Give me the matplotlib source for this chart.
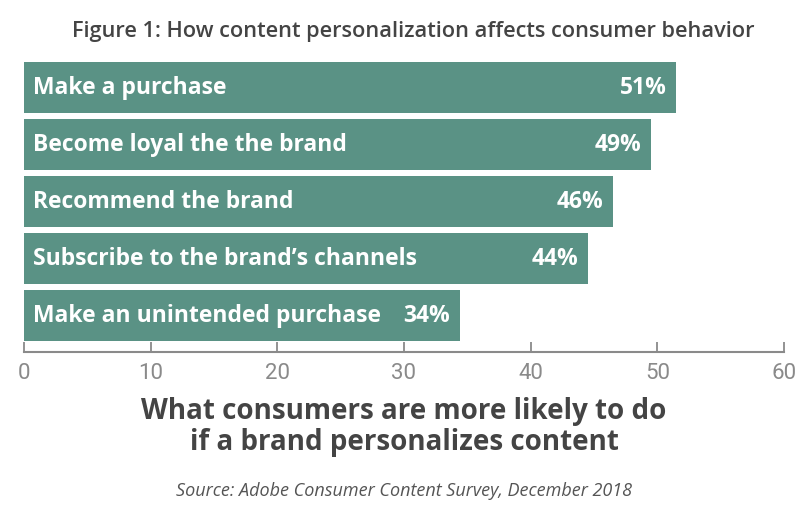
import matplotlib.pyplot as plt

# Donnees
categories = ["Make a purchase", "Become loyal the the brand", "Recommend the brand",
              "Subscribe to the brand\u2019s channels", "Make an unintended purchase"]
longueurs = [51.5, 49.5, 46.5, 44.5, 34.4]
etiquettes = ["51%", "49%", "46%", "44%", "34%"]
ticks = [0, 10, 20, 30, 40, 50, 60]

couleur = "#5a9285"
gris = "#8a8a8a"
fonce = "#444444"
police = ["Open Sans", "DejaVu Sans"]

fig = plt.figure(figsize=(8, 5.07), dpi=100)
ax = fig.add_axes([0.03, 0.3057, 0.95, 0.572])

pos = list(range(len(categories)))
ax.barh(pos, longueurs, height=0.9, color=couleur, edgecolor="none")

for i in pos:
    ax.text(0.7, i, categories[i], color="white", fontsize=16.5, fontweight="bold",
            va="center", ha="left", family=police)
    ax.annotate(etiquettes[i], (longueurs[i], i), xytext=(-7, 0), textcoords="offset points",
                color="white", fontsize=16.5, fontweight="bold", va="center", ha="right",
                family=police)

ax.set_xlim(0, 60)
ax.set_ylim(4.64, -0.45)
ax.set_yticks([])
ax.set_xticks(ticks)
ax.set_xticklabels([str(t) for t in ticks], color=gris, fontsize=16,
                   family=["Liberation Sans Narrow", "Roboto", "DejaVu Sans"])
ax.tick_params(axis="x", direction="in", length=7, width=1.3, color=gris, pad=8)
for s in ["top", "right", "left"]:
    ax.spines[s].set_visible(False)
ax.spines["bottom"].set_color(gris)
ax.spines["bottom"].set_linewidth(1.5)

fig.text(0.516, 1 - 32 / 507, "Figure 1: How content personalization affects consumer behavior",
         ha="center", va="center", fontsize=15.7, color=fonce, fontweight="semibold",
         family=police)
fig.text(0.505, 1 - 427 / 507, "What consumers are more likely to do\nif a brand personalizes content",
         ha="center", va="center", fontsize=20, color=fonce, fontweight="bold",
         linespacing=1.12, family=police)
fig.text(0.505, 1 - 491 / 507, "Source: Adobe Consumer Content Survey, December 2018",
         ha="center", va="center", fontsize=13, color="#555555", style="italic",
         family=police)

fig.savefig("out.png", dpi=100)
